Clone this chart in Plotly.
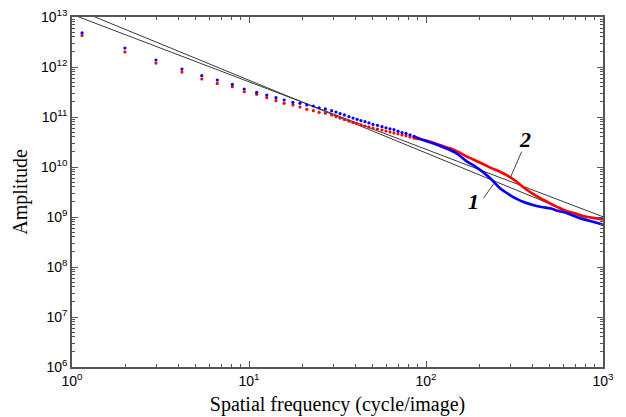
import plotly.graph_objects as go

# ---- data ----
freq_dots = [1.14, 1.99, 2.98, 4.18, 5.41, 6.62, 8.05, 9.4, 11.05, 12.6,
             14.2, 15.8, 17.7, 19.4, 21.2, 23.1, 24.9, 27.0, 29.3,
             31.0, 32.7, 34.6, 36.7, 38.7, 40.8, 42.9, 45.2, 47.6, 50.2,
             53.2, 56.4, 59.4, 62.6, 65.9, 69.5, 73.2, 77.1, 81.2, 85.5]
blue_dots = [4.8e12, 2.4e12, 1.38e12, 9.1e11, 6.7e11, 5.5e11, 4.5e11, 3.63e11, 3.12e11, 2.75e11,
             2.43e11, 2.19e11, 1.97e11, 1.88e11, 1.74e11, 1.66e11, 1.53e11, 1.45e11, 1.34e11,
             1.26e11, 1.17e11, 1.10e11, 1.02e11, 9.5e10, 9.0e10, 8.5e10, 8.05e10, 7.6e10, 7.1e10,
             6.8e10, 6.4e10, 6.1e10, 5.8e10, 5.6e10, 5.2e10, 4.9e10, 4.7e10, 4.4e10, 4.1e10]
red_dots = [4.27e12, 2.0e12, 1.2e12, 7.9e11, 5.75e11, 4.7e11, 4.04e11, 3.2e11, 2.84e11, 2.43e11,
            2.12e11, 1.88e11, 1.74e11, 1.58e11, 1.43e11, 1.34e11, 1.24e11, 1.19e11, 1.10e11,
            1.02e11, 9.5e10, 8.9e10, 8.3e10, 7.8e10, 7.4e10, 7.0e10, 6.6e10, 6.3e10, 6.0e10,
            5.75e10, 5.5e10, 5.25e10, 5.0e10, 4.8e10, 4.6e10, 4.4e10, 4.2e10, 4.0e10, 3.8e10]

freq_line = [85.5, 100, 109.6, 122, 136.7, 152, 170.5, 190, 210, 236, 262, 298, 325,
             353, 402, 450, 502, 560, 627, 700, 771, 880, 1000]
red_line = [3.8e10, 3.39e10, 3.06e10, 2.69e10, 2.37e10, 2.0e10, 1.61e10, 1.35e10, 1.15e10,
            9.4e9, 8.05e9, 6.3e9, 5.1e9, 3.98e9, 2.9e9, 2.3e9, 1.88e9, 1.55e9, 1.3e9,
            1.17e9, 1.05e9, 9.6e8, 8.9e8]
blue_line = [4.1e10, 3.3e10, 2.98e10, 2.57e10, 2.19e10, 1.78e10, 1.28e10, 1.02e10, 7.9e9,
             5.5e9, 3.75e9, 2.75e9, 2.3e9, 2.02e9, 1.74e9, 1.58e9, 1.49e9, 1.32e9, 1.19e9,
             1.02e9, 9.0e8, 8.0e8, 7.0e8]

fit_freq = [1, 1000]
fit1 = [1.13e13, 1.01e9]
fit2 = [1.55e13, 6.7e8]

# curve labels: text, position (log10 units), leader-line endpoints (data units)
label_text = ["1", "2"]
label_x = [2.267, 2.559]
label_y = [9.306, 10.56]
leader1_x = [211, 242]
leader1_y = [2.37e9, 4.68e9]
leader2_x = [347, 300]
leader2_y = [2.02e10, 6.2e9]

x_exps = [0, 1, 2, 3]
y_exps = [6, 7, 8, 9, 10, 11, 12, 13]

fig = go.Figure()

for fy in (fit1, fit2):
    fig.add_trace(go.Scatter(x=fit_freq, y=fy, mode="lines",
                             line=dict(color="#3a3a3a", width=1), showlegend=False))

fig.add_trace(go.Scatter(x=freq_line, y=red_line, mode="lines",
                         line=dict(color="#ff0000", width=2.6, shape="spline", smoothing=0.6),
                         showlegend=False))
fig.add_trace(go.Scatter(x=freq_line, y=blue_line, mode="lines",
                         line=dict(color="#0000ff", width=2.6, shape="spline", smoothing=0.6),
                         showlegend=False))
fig.add_trace(go.Scatter(x=freq_dots, y=red_dots, mode="markers",
                         marker=dict(color="#ff0000", size=3.2, symbol="circle",
                                     line=dict(width=0)), showlegend=False))
fig.add_trace(go.Scatter(x=freq_dots, y=blue_dots, mode="markers",
                         marker=dict(color="#0000ff", size=3.2, symbol="circle",
                                     line=dict(width=0)), showlegend=False))

for lx, ly in [(leader1_x, leader1_y), (leader2_x, leader2_y)]:
    fig.add_trace(go.Scatter(x=lx, y=ly, mode="lines",
                             line=dict(color="#444444", width=1), showlegend=False))

for t, ax_, ay_ in zip(label_text, label_x, label_y):
    fig.add_annotation(x=ax_, y=ay_, xref="x", yref="y", text="<b><i>%s</i></b>" % t,
                       showarrow=False,
                       font=dict(family="Liberation Serif", size=22, color="black"))

def minor_vals(lo, hi):
    out = []
    for e in range(lo, hi):
        for d in range(2, 10):
            out.append(d * 10.0 ** e)
    return out

axis_common = dict(
    type="log", showgrid=False, zeroline=False,
    showline=True, linecolor="#555555", linewidth=1.5, mirror="ticks",
    ticks="inside", ticklen=6, tickcolor="#555555", tickwidth=1,
    tickfont=dict(family="Liberation Sans", size=14, color="black"),
)

fig.update_xaxes(
    **axis_common,
    range=[0, 3],
    tickmode="array",
    tickvals=[10.0 ** e for e in x_exps],
    ticktext=["10<sup>%d</sup>" % e for e in x_exps],
    minor=dict(tickmode="array", tickvals=minor_vals(0, 3), ticks="inside",
               ticklen=3, tickcolor="#555555", showgrid=False),
    title=dict(text="Spatial frequency (cycle/image)",
               font=dict(family="Liberation Serif", size=20, color="black"), standoff=9),
)
fig.update_yaxes(
    **axis_common,
    range=[6, 13],
    tickmode="array",
    tickvals=[10.0 ** e for e in y_exps],
    ticktext=["10<sup>%d</sup>" % e for e in y_exps],
    minor=dict(tickmode="array", tickvals=minor_vals(6, 13), ticks="inside",
               ticklen=3, tickcolor="#555555", showgrid=False),
    title=dict(text="Amplitude",
               font=dict(family="Liberation Serif", size=20, color="black"), standoff=8),
)

fig.update_layout(
    width=626, height=417,
    margin=dict(l=72, r=23, t=17, b=50, autoexpand=False),
    paper_bgcolor="white", plot_bgcolor="white",
)

fig.write_html("out.html", config={"displayModeBar": False},
               post_script="document.body.style.margin='0px';")
